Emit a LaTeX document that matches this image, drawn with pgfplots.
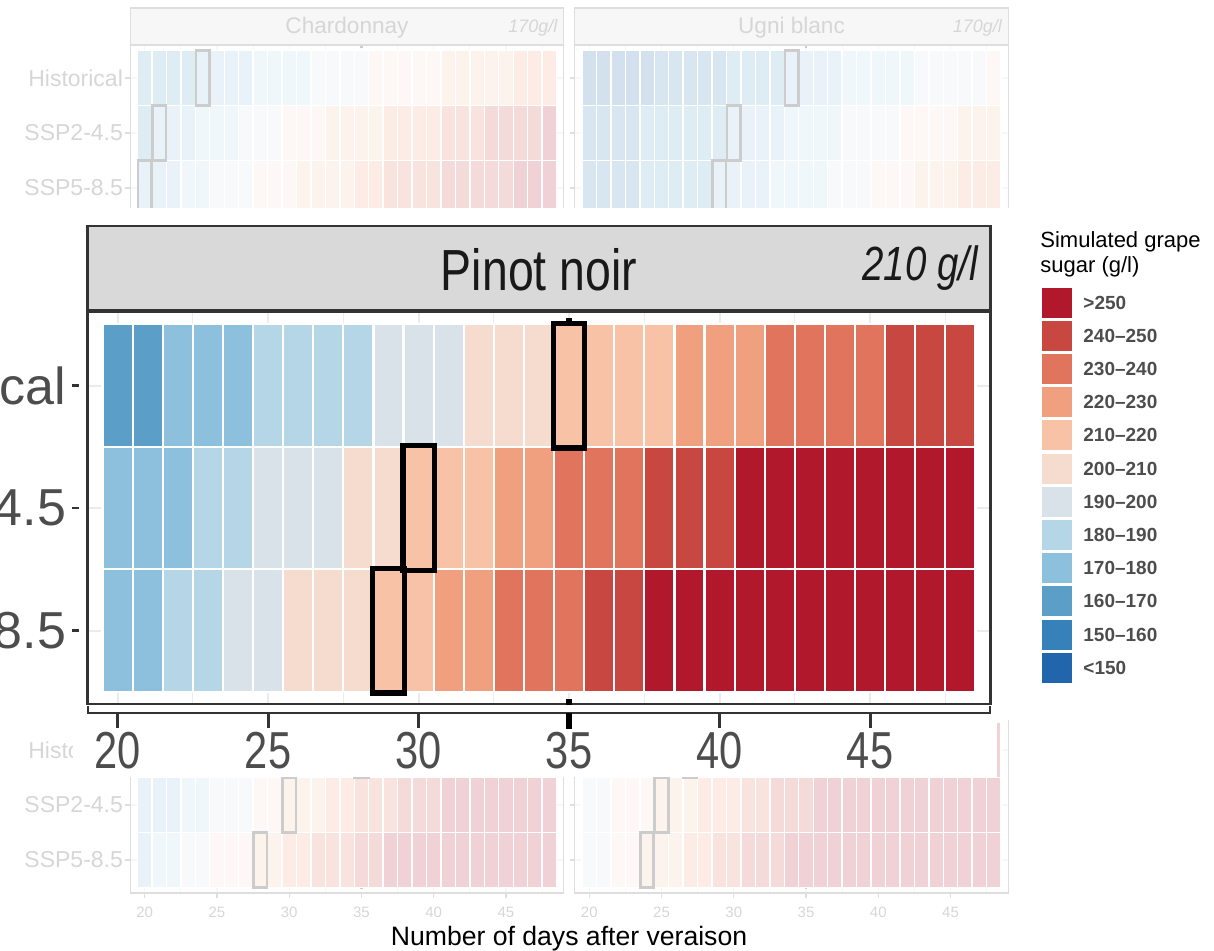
\documentclass[border=0pt]{standalone}
\usepackage{pgfplots}
\pgfplotsset{compat=1.18}
\usepackage{fontspec}
\setmainfont{Liberation Sans}
\newfontfamily\narrow[FakeStretch=0.8]{Liberation Sans}

\definecolor{cA}{HTML}{2166AC}
\definecolor{cB}{HTML}{3781BA}
\definecolor{cC}{HTML}{5B9FC9}
\definecolor{cD}{HTML}{8DC0DC}
\definecolor{cE}{HTML}{B5D6E6}
\definecolor{cF}{HTML}{DAE2E9}
\definecolor{cG}{HTML}{F5DCCF}
\definecolor{cH}{HTML}{F7C2A6}
\definecolor{cI}{HTML}{F0A07E}
\definecolor{cJ}{HTML}{E0745C}
\definecolor{cK}{HTML}{C94741}
\definecolor{cL}{HTML}{B2182B}
\definecolor{gridc}{HTML}{EBEBEB}
\definecolor{dk}{HTML}{333333}
\definecolor{tx}{HTML}{4D4D4D}
\definecolor{stripc}{HTML}{D9D9D9}
\definecolor{bgtx}{HTML}{D6D6D6}
\definecolor{bgline}{HTML}{DEDEDE}
\definecolor{bggrid}{HTML}{F7F7F7}
\definecolor{bgbox}{HTML}{CCCCCC}

\pgfdeclareplotmark{tileM}{\pgfpathrectangle{\pgfpoint{-7.525pt}{-30.625pt}}{\pgfpoint{15.05pt}{61.25pt}}\pgfusepathqfillstroke}
\pgfdeclareplotmark{boxM}{\pgfpathrectangle{\pgfpoint{-7.8pt}{-31.2pt}}{\pgfpoint{15.6pt}{62.4pt}}\pgfusepathqstroke}
\pgfdeclareplotmark{tileB}{\pgfpathrectangle{\pgfpoint{-3.6125pt}{-13.75pt}}{\pgfpoint{7.225pt}{27.5pt}}\pgfusepathqfillstroke}
\pgfdeclareplotmark{boxB}{\pgfpathrectangle{\pgfpoint{-3.35pt}{-13.7pt}}{\pgfpoint{6.7pt}{27.4pt}}\pgfusepathqstroke}

\pgfplotsset{
 tiles/.style={scatter, only marks, scatter src=explicit symbolic, mark=tileM,
   mark options={draw=white, line width=1.1pt},
   scatter/classes={a={fill=cA},b={fill=cB},c={fill=cC},d={fill=cD},e={fill=cE},f={fill=cF},
     g={fill=cG},h={fill=cH},i={fill=cI},j={fill=cJ},k={fill=cK},l={fill=cL}}},
 bgtiles/.style={scatter, only marks, scatter src=explicit symbolic, mark=tileB,
   mark options={draw=white, line width=0.7pt},
   scatter/classes={a={fill=cA!20!white},b={fill=cB!20!white},c={fill=cC!20!white},d={fill=cD!20!white},
     e={fill=cE!20!white},f={fill=cF!20!white},g={fill=cG!20!white},h={fill=cH!20!white},
     i={fill=cI!20!white},j={fill=cJ!20!white},k={fill=cK!20!white},l={fill=cL!20!white}}},
 bgax/.style={anchor=south west, scale only axis, width=216.75pt, height=88pt,
   xmin=19, xmax=49, ymin=0.4, ymax=3.6, clip=false,
   axis line style={draw=bgline, line width=0.6pt},
   xtick={20,25,30,35,40,45}, minor xtick={22.5,27.5,32.5,37.5,42.5,47.5},
   xticklabels={20,25,30,35,40,45},
   ytick={1,2,3}, yticklabels={SSP5-8.5,SSP2-4.5,Historical},
   grid=both, major grid style={draw=bggrid, line width=0.6pt}, minor grid style={draw=bggrid, line width=0.4pt},
   tick align=outside, tick pos=left, major tick length=2.5pt, minor tick length=0pt,
   tick style={draw=bgline, line width=0.6pt},
   yticklabel style={font=\fontsize{11.5}{12}\selectfont, text=bgtx, inner sep=1pt},
   xticklabel style={font=\fontsize{7.5}{8}\selectfont, text=bgtx, yshift=-1pt}},
 bgdot/.style={draw=bgbox, line width=1.35pt, dash pattern=on 1.35pt off 5.15pt, mark=none},
 bgboxes/.style={only marks, mark=boxB, mark options={draw=bgbox, line width=1.35pt}},
}

\begin{document}
\begin{tikzpicture}

% ---------------- background (faded) facets ----------------
% top left: Chardonnay
\begin{axis}[bgax, at={(65.15pt,-110.5pt)}, xticklabels={}]
\addplot[bgtiles] coordinates {
(20,3)[c] (21,3)[c] (22,3)[c] (23,3)[c] (24,3)[d] (25,3)[d] (26,3)[d] (27,3)[d] (28,3)[e] (29,3)[e] (30,3)[e] (31,3)[e] (32,3)[f] (33,3)[f] (34,3)[f] (35,3)[f] (36,3)[g] (37,3)[g] (38,3)[g] (39,3)[g] (40,3)[g] (41,3)[h] (42,3)[h] (43,3)[h] (44,3)[h] (45,3)[h] (46,3)[i] (47,3)[i] (48,3)[i]
(20,2)[c] (21,2)[d] (22,2)[d] (23,2)[d] (24,2)[e] (25,2)[e] (26,2)[e] (27,2)[f] (28,2)[f] (29,2)[f] (30,2)[g] (31,2)[g] (32,2)[g] (33,2)[h] (34,2)[h] (35,2)[h] (36,2)[h] (37,2)[i] (38,2)[i] (39,2)[i] (40,2)[i] (41,2)[j] (42,2)[j] (43,2)[j] (44,2)[k] (45,2)[k] (46,2)[k] (47,2)[k] (48,2)[l]
(20,1)[d] (21,1)[d] (22,1)[d] (23,1)[e] (24,1)[e] (25,1)[f] (26,1)[f] (27,1)[f] (28,1)[g] (29,1)[g] (30,1)[g] (31,1)[h] (32,1)[h] (33,1)[h] (34,1)[h] (35,1)[i] (36,1)[i] (37,1)[j] (38,1)[j] (39,1)[j] (40,1)[j] (41,1)[k] (42,1)[k] (43,1)[k] (44,1)[k] (45,1)[k] (46,1)[l] (47,1)[l] (48,1)[l]
};
\addplot[bgboxes] coordinates {(24,3) (21,2) (20,1)};
\addplot[bgdot] coordinates {(35,3.6) (35,0.35)};
\end{axis}

% top right: Ugni blanc
\begin{axis}[bgax, at={(287.4pt,-110.5pt)}, xticklabels={}, yticklabels={}]
\addplot[bgtiles] coordinates {
(20,3)[a] (21,3)[a] (22,3)[a] (23,3)[a] (24,3)[a] (25,3)[b] (26,3)[b] (27,3)[b] (28,3)[b] (29,3)[b] (30,3)[c] (31,3)[c] (32,3)[c] (33,3)[c] (34,3)[d] (35,3)[d] (36,3)[d] (37,3)[d] (38,3)[e] (39,3)[e] (40,3)[e] (41,3)[e] (42,3)[e] (43,3)[f] (44,3)[f] (45,3)[f] (46,3)[f] (47,3)[f] (48,3)[g]
(20,2)[b] (21,2)[b] (22,2)[b] (23,2)[b] (24,2)[c] (25,2)[c] (26,2)[c] (27,2)[c] (28,2)[c] (29,2)[c] (30,2)[d] (31,2)[d] (32,2)[d] (33,2)[d] (34,2)[e] (35,2)[e] (36,2)[e] (37,2)[e] (38,2)[f] (39,2)[f] (40,2)[f] (41,2)[f] (42,2)[g] (43,2)[g] (44,2)[g] (45,2)[g] (46,2)[h] (47,2)[h] (48,2)[h]
(20,1)[b] (21,1)[b] (22,1)[b] (23,1)[b] (24,1)[c] (25,1)[c] (26,1)[c] (27,1)[c] (28,1)[c] (29,1)[d] (30,1)[d] (31,1)[d] (32,1)[d] (33,1)[e] (34,1)[e] (35,1)[e] (36,1)[e] (37,1)[f] (38,1)[f] (39,1)[f] (40,1)[g] (41,1)[g] (42,1)[g] (43,1)[h] (44,1)[h] (45,1)[h] (46,1)[i] (47,1)[i] (48,1)[i]
};
\addplot[bgboxes] coordinates {(34,3) (30,2) (29,1)};
\addplot[bgdot] coordinates {(35,3.6) (35,0.35)};
\end{axis}

% bottom left
\begin{axis}[bgax, at={(65.15pt,-446.5pt)}]
\addplot[bgtiles] coordinates {
(20,3)[c] (21,3)[c] (22,3)[d] (23,3)[d] (24,3)[d] (25,3)[e] (26,3)[e] (27,3)[e] (28,3)[e] (29,3)[f] (30,3)[f] (31,3)[f] (32,3)[g] (33,3)[g] (34,3)[g] (35,3)[h] (36,3)[h] (37,3)[h] (38,3)[h] (39,3)[i] (40,3)[i] (41,3)[i] (42,3)[j] (43,3)[j] (44,3)[j] (45,3)[j] (46,3)[k] (47,3)[k] (48,3)[k]
(20,2)[d] (21,2)[d] (22,2)[d] (23,2)[e] (24,2)[e] (25,2)[f] (26,2)[f] (27,2)[f] (28,2)[g] (29,2)[g] (30,2)[h] (31,2)[h] (32,2)[h] (33,2)[i] (34,2)[i] (35,2)[j] (36,2)[j] (37,2)[j] (38,2)[k] (39,2)[k] (40,2)[k] (41,2)[l] (42,2)[l] (43,2)[l] (44,2)[l] (45,2)[l] (46,2)[l] (47,2)[l] (48,2)[l]
(20,1)[d] (21,1)[e] (22,1)[e] (23,1)[f] (24,1)[f] (25,1)[g] (26,1)[g] (27,1)[g] (28,1)[h] (29,1)[h] (30,1)[i] (31,1)[i] (32,1)[j] (33,1)[j] (34,1)[j] (35,1)[k] (36,1)[k] (37,1)[l] (38,1)[l] (39,1)[l] (40,1)[l] (41,1)[l] (42,1)[l] (43,1)[l] (44,1)[l] (45,1)[l] (46,1)[l] (47,1)[l] (48,1)[l]
};
\addplot[bgboxes] coordinates {(35,3) (30,2) (28,1)};
\addplot[bgdot] coordinates {(35,3.6) (35,0.35)};
\end{axis}

% bottom right
\begin{axis}[bgax, at={(287.4pt,-446.5pt)}, yticklabels={}]
\addplot[bgtiles] coordinates {
(20,3)[e] (21,3)[e] (22,3)[f] (23,3)[f] (24,3)[g] (25,3)[g] (26,3)[g] (27,3)[h] (28,3)[h] (29,3)[h] (30,3)[i] (31,3)[i] (32,3)[i] (33,3)[i] (34,3)[j] (35,3)[j] (36,3)[j] (37,3)[j] (38,3)[k] (39,3)[k] (40,3)[k] (41,3)[k] (42,3)[k] (43,3)[l] (44,3)[l] (45,3)[l] (46,3)[l] (47,3)[l] (48,3)[l]
(20,2)[f] (21,2)[f] (22,2)[g] (23,2)[g] (24,2)[g] (25,2)[h] (26,2)[h] (27,2)[h] (28,2)[i] (29,2)[i] (30,2)[i] (31,2)[j] (32,2)[j] (33,2)[k] (34,2)[k] (35,2)[k] (36,2)[l] (37,2)[l] (38,2)[l] (39,2)[l] (40,2)[l] (41,2)[l] (42,2)[l] (43,2)[l] (44,2)[l] (45,2)[l] (46,2)[l] (47,2)[l] (48,2)[l]
(20,1)[f] (21,1)[f] (22,1)[g] (23,1)[g] (24,1)[h] (25,1)[h] (26,1)[h] (27,1)[i] (28,1)[i] (29,1)[j] (30,1)[j] (31,1)[k] (32,1)[k] (33,1)[k] (34,1)[l] (35,1)[l] (36,1)[l] (37,1)[l] (38,1)[l] (39,1)[l] (40,1)[l] (41,1)[l] (42,1)[l] (43,1)[l] (44,1)[l] (45,1)[l] (46,1)[l] (47,1)[l] (48,1)[l]
};
\addplot[bgboxes] coordinates {(27,3) (25,2) (24,1)};
\addplot[bgdot] coordinates {(35,3.6) (35,0.35)};
\end{axis}

\begin{scope}[x=0.5pt, y=-0.5pt]
% strips of the top facets
\filldraw[fill=bggrid, draw=bgline, line width=0.6pt] (130.3,8) rectangle (563.8,45);
\filldraw[fill=bggrid, draw=bgline, line width=0.6pt] (574.8,8) rectangle (1008.3,45);
\node[font=\fontsize{11.3}{12}\selectfont, text=bgtx, anchor=base] at (347,33) {Chardonnay};
\node[font=\itshape\fontsize{9}{10}\selectfont, text=bgtx, anchor=base east, inner sep=0pt] at (557.8,32) {170g/l};
\node[font=\fontsize{11.3}{12}\selectfont, text=bgtx, anchor=base] at (791.5,33) {Ugni blanc};
\node[font=\itshape\fontsize{9}{10}\selectfont, text=bgtx, anchor=base east, inner sep=0pt] at (1002.3,32) {170g/l};
% white cover of the zoomed panel
\fill[white] (0,208) rectangle (1012,720);
\fill[white] (73,718) rectangle (997,777);
% strip of the zoomed panel
\filldraw[fill=stripc, draw=dk, line width=1.1pt] (87.5,226) rectangle (990.5,310.5);
\node[font=\narrow\fontsize{29}{30}\selectfont, text=black!90, anchor=base, inner sep=0pt] at (539,290) {Pinot noir};
\node[font=\narrow\itshape\fontsize{24}{25}\selectfont, text=black!90, anchor=base east, inner sep=0pt] at (978,280) {210 g/l};
\end{scope}

% ---------------- zoomed panel: Pinot noir ----------------
\begin{axis}[at={(43.75pt,-352pt)}, anchor=south west, scale only axis,
  width=451.5pt, height=196pt,
  xmin=19, xmax=49, ymin=0.4, ymax=3.6, clip=false,
  axis line style={draw=dk, line width=1.1pt},
  xtick={20,25,30,35,40,45}, minor xtick={22.5,27.5,32.5,37.5,42.5,47.5},
  xticklabels={20,25,30,35,40,45},
  ytick={1,2,3}, yticklabels={SSP5-8.5,SSP2-4.5,Historical},
  grid=both, major grid style={draw=gridc, line width=1pt}, minor grid style={draw=gridc, line width=0.6pt},
  major tick length=0pt, minor tick length=0pt,
  xticklabel style={font=\narrow\fontsize{26}{26}\selectfont, text=tx, anchor=base, inner sep=0pt, yshift=-32pt},
  yticklabel style={font=\fontsize{26}{26}\selectfont, text=tx, anchor=east, inner sep=0pt, xshift=-10.5pt},
]
\addplot[tiles] coordinates {
(20,3)[c] (21,3)[c] (22,3)[d] (23,3)[d] (24,3)[d] (25,3)[e] (26,3)[e] (27,3)[e] (28,3)[e] (29,3)[f] (30,3)[f] (31,3)[f] (32,3)[g] (33,3)[g] (34,3)[g] (35,3)[h] (36,3)[h] (37,3)[h] (38,3)[h] (39,3)[i] (40,3)[i] (41,3)[i] (42,3)[j] (43,3)[j] (44,3)[j] (45,3)[j] (46,3)[k] (47,3)[k] (48,3)[k]
(20,2)[d] (21,2)[d] (22,2)[d] (23,2)[e] (24,2)[e] (25,2)[f] (26,2)[f] (27,2)[f] (28,2)[g] (29,2)[g] (30,2)[h] (31,2)[h] (32,2)[h] (33,2)[i] (34,2)[i] (35,2)[j] (36,2)[j] (37,2)[j] (38,2)[k] (39,2)[k] (40,2)[k] (41,2)[l] (42,2)[l] (43,2)[l] (44,2)[l] (45,2)[l] (46,2)[l] (47,2)[l] (48,2)[l]
(20,1)[d] (21,1)[d] (22,1)[e] (23,1)[e] (24,1)[f] (25,1)[f] (26,1)[g] (27,1)[g] (28,1)[g] (29,1)[h] (30,1)[h] (31,1)[i] (32,1)[i] (33,1)[j] (34,1)[j] (35,1)[j] (36,1)[k] (37,1)[k] (38,1)[l] (39,1)[l] (40,1)[l] (41,1)[l] (42,1)[l] (43,1)[l] (44,1)[l] (45,1)[l] (46,1)[l] (47,1)[l] (48,1)[l]
};
\addplot[only marks, mark=boxM, mark options={draw=black, line width=2.6pt}] coordinates {(35,3) (30,2) (29,1)};
\addplot[draw=black, line width=3pt, dash pattern=on 3pt off 11.65pt, mark=none] coordinates {(35,3.55) (35,0.33)};
\end{axis}

\begin{scope}[x=0.5pt, y=-0.5pt]
% y ticks of zoomed panel
\foreach \yy in {385.5,508,630.5} \draw[dk, line width=1.4pt] (72,\yy) -- (79,\yy);
% x axis bracket and ticks
\draw[dk, line width=1.1pt] (88,706) -- (88,713) -- (990,713) -- (990,706);
\foreach \xx in {117.6,268.1,418.6,719.6,870.1} \draw[dk, line width=1.6pt] (\xx,713) -- (\xx,728);
\draw[black, line width=3pt] (568.6,713) -- (568.6,729);
% legend
\node[anchor=base west, font=\fontsize{11}{12}\selectfont, inner sep=0pt] at (1040,247) {Simulated grape};
\node[anchor=base west, font=\fontsize{11}{12}\selectfont, inner sep=0pt] at (1040,272) {sugar (g/l)};
\foreach \c/\t [count=\n from 0] in {cL/{>250}, cK/{240--250}, cJ/{230--240}, cI/{220--230}, cH/{210--220}, cG/{200--210}, cF/{190--200}, cE/{180--190}, cD/{170--180}, cC/{160--170}, cB/{150--160}, cA/{<150}} {
  \pgfmathsetmacro\yt{287+33.2*\n}
  \filldraw[fill=\c, draw=white, line width=0.5pt] (1041,\yt) rectangle (1072,\yt+31);
  \node[anchor=west, font=\bfseries\fontsize{9.5}{10}\selectfont, text=tx, inner sep=0pt] at (1083,\yt+15.5) {\t};
}
% x axis title
\node[anchor=base, font=\fontsize{13.3}{14}\selectfont, inner sep=0pt] at (569,945) {Number of days after veraison};
\end{scope}

\pgfresetboundingbox
\useasboundingbox (0pt,0pt) rectangle (607pt,-475pt);
\end{tikzpicture}
\end{document}
